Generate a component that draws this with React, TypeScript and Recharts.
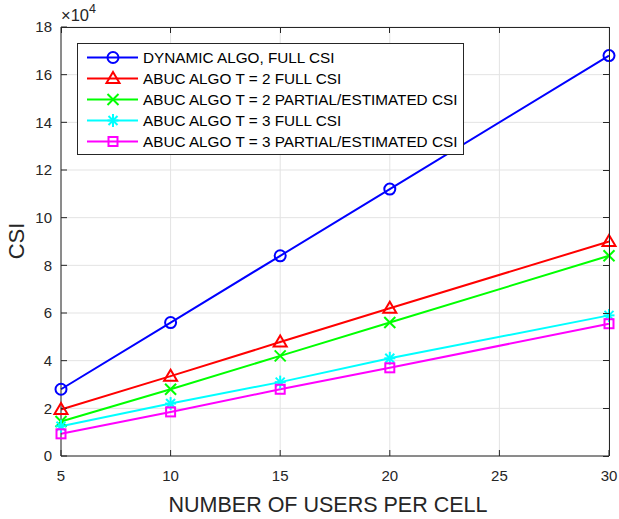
import React from 'react';
import { LineChart, Line, XAxis, YAxis, CartesianGrid } from 'recharts';

const users = [5, 10, 15, 20, 30];
const dynamicFull = [28000, 56000, 84000, 112000, 168000];
const abucT2Full = [19500, 33500, 47800, 62000, 90000];
const abucT2Partial = [14500, 28000, 42000, 56000, 84000];
const abucT3Full = [12500, 22000, 31000, 41000, 59000];
const abucT3Partial = [9300, 18500, 28000, 37000, 55500];

const xTicks = [5, 10, 15, 20, 25, 30];
const yTicks = [0, 20000, 40000, 60000, 80000, 100000, 120000, 140000, 160000, 180000];
const xDomain = [5, 30];
const yDomain = [0, 180000];

const data = users.map((u, i) => ({
  users: u,
  dyn: dynamicFull[i],
  t2full: abucT2Full[i],
  t2part: abucT2Partial[i],
  t3full: abucT3Full[i],
  t3part: abucT3Partial[i],
}));

const FONT = '"Liberation Sans", Arial, Helvetica, sans-serif';
const AXIS = '#262626';

// chart layout
const W = 619;
const H = 519;
const MARGIN = { top: 27, right: 10, bottom: 13, left: 21 };
const Y_AXIS_W = 40;
const X_AXIS_H = 50;
const PLOT = {
  x: MARGIN.left + Y_AXIS_W,
  y: MARGIN.top,
  width: W - MARGIN.left - Y_AXIS_W - MARGIN.right,
  height: H - MARGIN.top - MARGIN.bottom - X_AXIS_H,
};

type MarkerKind = 'circle' | 'triangle' | 'x' | 'star' | 'square';

const Marker = ({ kind, cx, cy, color }: { kind: MarkerKind; cx: number; cy: number; color: string }) => {
  const s = 5.5;
  switch (kind) {
    case 'circle':
      return <circle cx={cx} cy={cy} r={s} fill="none" stroke={color} strokeWidth={2} />;
    case 'triangle':
      return (
        <polygon
          points={`${cx},${cy - s - 1} ${cx + s + 1},${cy + s - 1} ${cx - s - 1},${cy + s - 1}`}
          fill="none"
          stroke={color}
          strokeWidth={2}
        />
      );
    case 'x':
      return (
        <g stroke={color} strokeWidth={2}>
          <line x1={cx - s} y1={cy - s} x2={cx + s} y2={cy + s} />
          <line x1={cx - s} y1={cy + s} x2={cx + s} y2={cy - s} />
        </g>
      );
    case 'star':
      return (
        <g stroke={color} strokeWidth={2}>
          <line x1={cx - s} y1={cy} x2={cx + s} y2={cy} />
          <line x1={cx} y1={cy - s - 1} x2={cx} y2={cy + s + 1} />
          <line x1={cx - s + 1} y1={cy - s + 1} x2={cx + s - 1} y2={cy + s - 1} />
          <line x1={cx - s + 1} y1={cy + s - 1} x2={cx + s - 1} y2={cy - s + 1} />
        </g>
      );
    default:
      return <rect x={cx - 4.5} y={cy - 4.5} width={9} height={9} fill="none" stroke={color} strokeWidth={2} />;
  }
};

const series: { key: string; name: string; color: string; marker: MarkerKind }[] = [
  { key: 'dyn', name: 'DYNAMIC ALGO, FULL CSI', color: '#0000ff', marker: 'circle' },
  { key: 't2full', name: 'ABUC ALGO T = 2 FULL CSI', color: '#ff0000', marker: 'triangle' },
  { key: 't2part', name: 'ABUC ALGO T = 2 PARTIAL/ESTIMATED CSI', color: '#00ff00', marker: 'x' },
  { key: 't3full', name: 'ABUC ALGO T = 3 FULL CSI', color: '#00ffff', marker: 'star' },
  { key: 't3part', name: 'ABUC ALGO T = 3 PARTIAL/ESTIMATED CSI', color: '#ff00ff', marker: 'square' },
];

// MATLAB-style box: top and right edges with inward ticks (overlay svg)
const Frame = () => {
  const { x, y, width, height } = PLOT;
  const px = (v: number) => x + ((v - xDomain[0]) / (xDomain[1] - xDomain[0])) * width;
  const py = (v: number) => y + height - ((v - yDomain[0]) / (yDomain[1] - yDomain[0])) * height;
  return (
    <svg width={W} height={H} style={{ position: 'absolute', left: 0, top: 0, pointerEvents: 'none' }}>
      <g stroke={AXIS} strokeWidth={1} fill="none" shapeRendering="crispEdges">
        <line x1={x} y1={y} x2={x + width} y2={y} />
        <line x1={x + width} y1={y} x2={x + width} y2={y + height} />
        {xTicks.map((t) => (
          <line key={`tx${t}`} x1={px(t)} y1={y} x2={px(t)} y2={y + 6} />
        ))}
        {yTicks.map((t) => (
          <line key={`ty${t}`} x1={x + width - 6} y1={py(t)} x2={x + width} y2={py(t)} />
        ))}
      </g>
    </svg>
  );
};

const LegendBox = () => (
  <div
    style={{
      position: 'absolute',
      left: 77,
      top: 43,
      border: `1px solid ${AXIS}`,
      background: '#fff',
      width: 387,
      height: 112,
      boxSizing: 'border-box',
      paddingTop: 3,
      fontFamily: FONT,
      fontSize: 15.3,
      color: '#000',
    }}
  >
    {series.map((s) => (
      <div key={s.key} style={{ display: 'flex', alignItems: 'center', height: 21 }}>
        <svg width={65} height={21} style={{ flex: 'none' }}>
          <line x1={9} y1={10.5} x2={60} y2={10.5} stroke={s.color} strokeWidth={2} />
          <Marker kind={s.marker} cx={35} cy={10.5} color={s.color} />
        </svg>
        <span style={{ whiteSpace: 'nowrap' }}>{s.name}</span>
      </div>
    ))}
  </div>
);

const YLabel = (props: any) => {
  const vb = props.viewBox || {};
  const x0 = vb.x + vb.width;
  return (
    <g fontFamily={FONT} fill={AXIS}>
      <text x={x0} y={vb.y - 6} fontSize={16.5}>
        ×10<tspan dy={-8} fontSize={12.5}>4</tspan>
      </text>
      <text x={24} y={241} fontSize={22} textAnchor="middle" transform="rotate(-90, 24, 241)">
        CSI
      </text>
    </g>
  );
};

const XLabel = () => (
  <text x={328} y={512} fontSize={21.5} textAnchor="middle" fontFamily={FONT} fill={AXIS}>
    NUMBER OF USERS PER CELL
  </text>
);

export default function App() {
  const tickStyle = { fill: AXIS, fontSize: 15, fontFamily: FONT };
  return (
    <div style={{ position: 'absolute', left: 0, top: 0, width: W, height: H, background: '#fff' }}>
      <LineChart width={W} height={H} data={data} margin={MARGIN}>
        <CartesianGrid
          xAxisId="b"
          yAxisId="l"
          stroke="#e3e3e3"
          strokeWidth={1}
          horizontalValues={yTicks}
          verticalValues={xTicks}
        />
        <XAxis
          xAxisId="b"
          dataKey="users"
          type="number"
          domain={xDomain}
          ticks={xTicks}
          height={X_AXIS_H}
          stroke={AXIS}
          tickSize={-6}
          tickMargin={20}
          tick={tickStyle}
          label={<XLabel />}
        />
        <YAxis
          yAxisId="l"
          type="number"
          domain={yDomain}
          ticks={yTicks}
          width={Y_AXIS_W}
          stroke={AXIS}
          tickSize={-6}
          tickMargin={15}
          tick={tickStyle}
          tickFormatter={(v: number) => String(v / 10000)}
          label={<YLabel />}
        />
        {series.map((s) => (
          <Line
            key={s.key}
            xAxisId="b"
            yAxisId="l"
            dataKey={s.key}
            name={s.name}
            type="linear"
            stroke={s.color}
            strokeWidth={2}
            isAnimationActive={false}
            dot={(p: any) => <Marker key={`${s.key}-${p.index}`} kind={s.marker} cx={p.cx} cy={p.cy} color={s.color} />}
            activeDot={false}
          />
        ))}
      </LineChart>
      <Frame />
      <LegendBox />
    </div>
  );
}
